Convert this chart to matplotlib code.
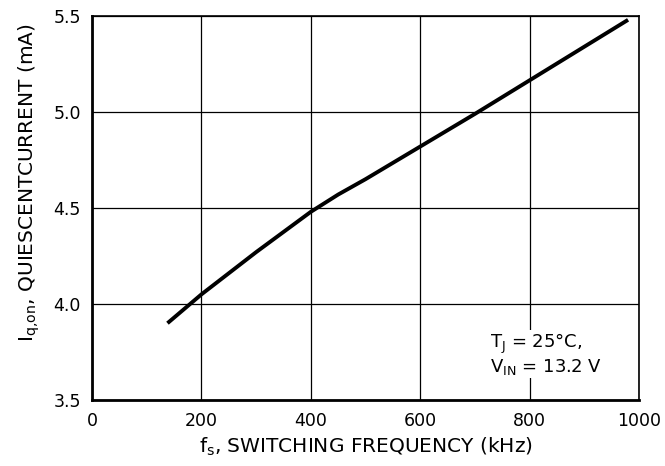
import matplotlib
matplotlib.use("Agg")
import matplotlib.pyplot as plt

freq_khz = [138, 200, 300, 400, 450, 500, 600, 700, 800, 900, 980]
iq_ma = [3.90, 4.05, 4.27, 4.48, 4.57, 4.65, 4.82, 4.99, 5.165, 5.34, 5.48]
xticks = [0, 200, 400, 600, 800, 1000]
yticks = [3.5, 4.0, 4.5, 5.0, 5.5]

plt.rcParams['font.family'] = ['DejaVu Sans']
plt.rcParams['mathtext.fontset'] = 'dejavusans'

FS_TICK = 12.5
FS_LABEL = 14.5
FS_NOTE = 13
fig = plt.figure(figsize=(6.65, 4.66), dpi=100)
ax = fig.add_axes([92/665, 1 - 400/466, (639-92)/665, (400-16)/466])
ax.plot(freq_khz, iq_ma, color='black', lw=2.8, solid_capstyle='butt')
ax.set_xlim(0, 1000)
ax.set_ylim(3.5, 5.5)
ax.set_xticks(xticks)
ax.set_yticks(yticks)
ax.set_xticklabels([str(t) for t in xticks])
ax.set_yticklabels([f"{t:.1f}" for t in yticks])
ax.grid(True, color='black', lw=0.9)
ax.tick_params(length=0, labelsize=FS_TICK)
ax.tick_params(axis='x', pad=9)
ax.tick_params(axis='y', pad=8)
for s in ['left', 'bottom']:
    ax.spines[s].set_linewidth(2.0)
for s in ['top', 'right']:
    ax.spines[s].set_linewidth(1.2)
ax.set_xlabel(r'f$_\mathregular{s}$, SWITCHING FREQUENCY (kHz)', fontsize=FS_LABEL, labelpad=4)
ax.set_ylabel(r'I$_\mathregular{q{,}on}$, QUIESCENTCURRENT (mA)', fontsize=FS_LABEL, labelpad=8)
ax.yaxis.label.set_y(0.565)
note_box = dict(facecolor='white', edgecolor='none', pad=1)
ax.text(728, 3.771, 'T$_\\mathregular{J}$ = 25°C,', fontsize=FS_NOTE, va='baseline', ha='left', bbox=note_box)
ax.text(728, 3.646, 'V$_\\mathregular{IN}$ = 13.2 V', fontsize=FS_NOTE, va='baseline', ha='left', bbox=note_box)
fig.savefig('out.png', dpi=100)
